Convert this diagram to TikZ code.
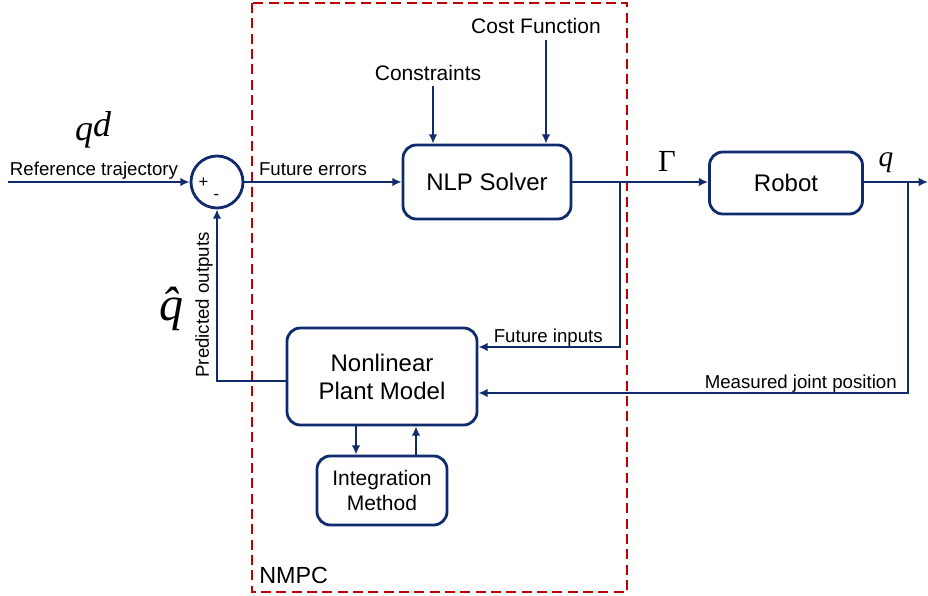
\documentclass[tikz,border=0pt]{standalone}
\usepackage{fontspec}
\setmainfont{Liberation Sans}
\newfontfamily\symfont{Liberation Serif}
\usepackage{tikz}
\usetikzlibrary{calc,arrows.meta}
\definecolor{navy}{HTML}{0F2B6B}
\definecolor{darkred}{HTML}{C00000}

\begin{document}
\begin{tikzpicture}[x = 0.75pt,
                    y = -0.75pt,
                    block/.style = {draw=navy, line width=2.1pt, rounded corners=10pt,
                                    align=center, font=\fontsize{18}{21}\selectfont},
                    smallblock/.style = {block, font=\fontsize{15.75}{18.5}\selectfont},
                    sig/.style = {draw=navy, line width=2.1pt, -{Latex[length=7pt,width=6.5pt]}},
                    lbl/.style = {font=\fontsize{14}{16}\selectfont, inner sep=0pt},
                    toplbl/.style = {font=\fontsize{15.75}{18}\selectfont, inner sep=0pt},
                    sym/.style = {inner sep=0pt, anchor=base}]

\useasboundingbox (0,0) rectangle (928,596);

%NMPC frame
\draw [darkred, line width=1.9pt, dash pattern=on 7.5pt off 4pt] (252,3) rectangle (627,592);
\node [anchor=base west, inner sep=0pt, font=\fontsize{17.5}{20}\selectfont] (nmpc) at (259,583) {NMPC};

%blocks
\node [block, minimum width=126pt, minimum height=55.5pt] (nlp) at (487,182) {NLP Solver};
\node [block, minimum width=114.75pt, minimum height=46.5pt] (robot) at (786,183) {Robot};
\node [block, minimum width=142.5pt, minimum height=72.75pt] (plant) at (382,376.5) {Nonlinear\\Plant Model};
\node [smallblock, minimum width=97.5pt, minimum height=51.75pt] (integ) at (382,490.5) {Integration\\Method};

%summing junction
\node [circle, draw=navy, line width=2.1pt, minimum size=39pt, inner sep=0pt] (sum) at (217,182) {};
\node [inner sep=0pt, font=\fontsize{12.5}{14}\selectfont] (plus) at (203.5,182.5) {+};
\node [inner sep=0pt, font=\fontsize{12.5}{14}\selectfont] (minus) at (216.5,197) {-};

%free ends
\coordinate (refin) at (8,182);
\coordinate (consin) at (433,86);
\coordinate (costin) at (546,40);
\coordinate (gbranch) at (620,182);
\coordinate (qout) at (928,182);
\coordinate (mbranch) at (908,182);

%signals
\draw [sig] (refin) -- (sum.west);
\draw [sig] (sum.east) -- (nlp.west);
\draw [sig] (consin) -- (consin |- nlp.north);
\draw [sig] (costin) -- (costin |- nlp.north);
\draw [sig] (nlp.east) -- (nlp.east -| robot.west);
\draw [sig] (robot.east |- qout) -- (qout);

%feedback paths
\draw [sig] (gbranch) |- ($(plant.east)+(0,-29.5)$);
\draw [sig] (mbranch) |- ($(plant.east)+(0,16.5)$);
\draw [sig] ($(plant.west)+(0,4.5)$) -| (sum.south);
\draw [sig] ($(plant.south)+(-26,0)$) -- ($(integ.north)+(-26,0)$);
\draw [sig] ($(integ.north)+(34,0)$) -- ($(plant.south)+(34,0)$);

%labels
\node [lbl, anchor=base] (reflbl) at (94,175) {Reference trajectory};
\node [sym, font=\fontsize{27}{30}\selectfont\symfont\itshape] (qd) at (93,140) {q\raisebox{3pt}{d}};
\node [lbl, anchor=base] (errlbl) at (313,175) {Future errors};
\node [toplbl, anchor=base] (cons) at (428,80) {Constraints};
\node [toplbl, anchor=base] (cost) at (536,33) {Cost Function};
\node [sym, font=\fontsize{23}{26}\selectfont\symfont] (gam) at (667,171) {Γ};
\node [sym, font=\fontsize{22}{26}\selectfont\symfont\itshape] (qlbl) at (886,166) {q};
\node [lbl, anchor=base east] (inlbl) at (603,342) {Future inputs};
\node [lbl, anchor=base east] (meslbl) at (897,388) {Measured joint position};
\node [lbl, rotate=90] (predlbl) at (204,305) {Predicted outputs};
\node [sym, font=\fontsize{36}{40}\selectfont\symfont\itshape] (qhat) at (171,320) {\^{q}};

\end{tikzpicture}
\end{document}
